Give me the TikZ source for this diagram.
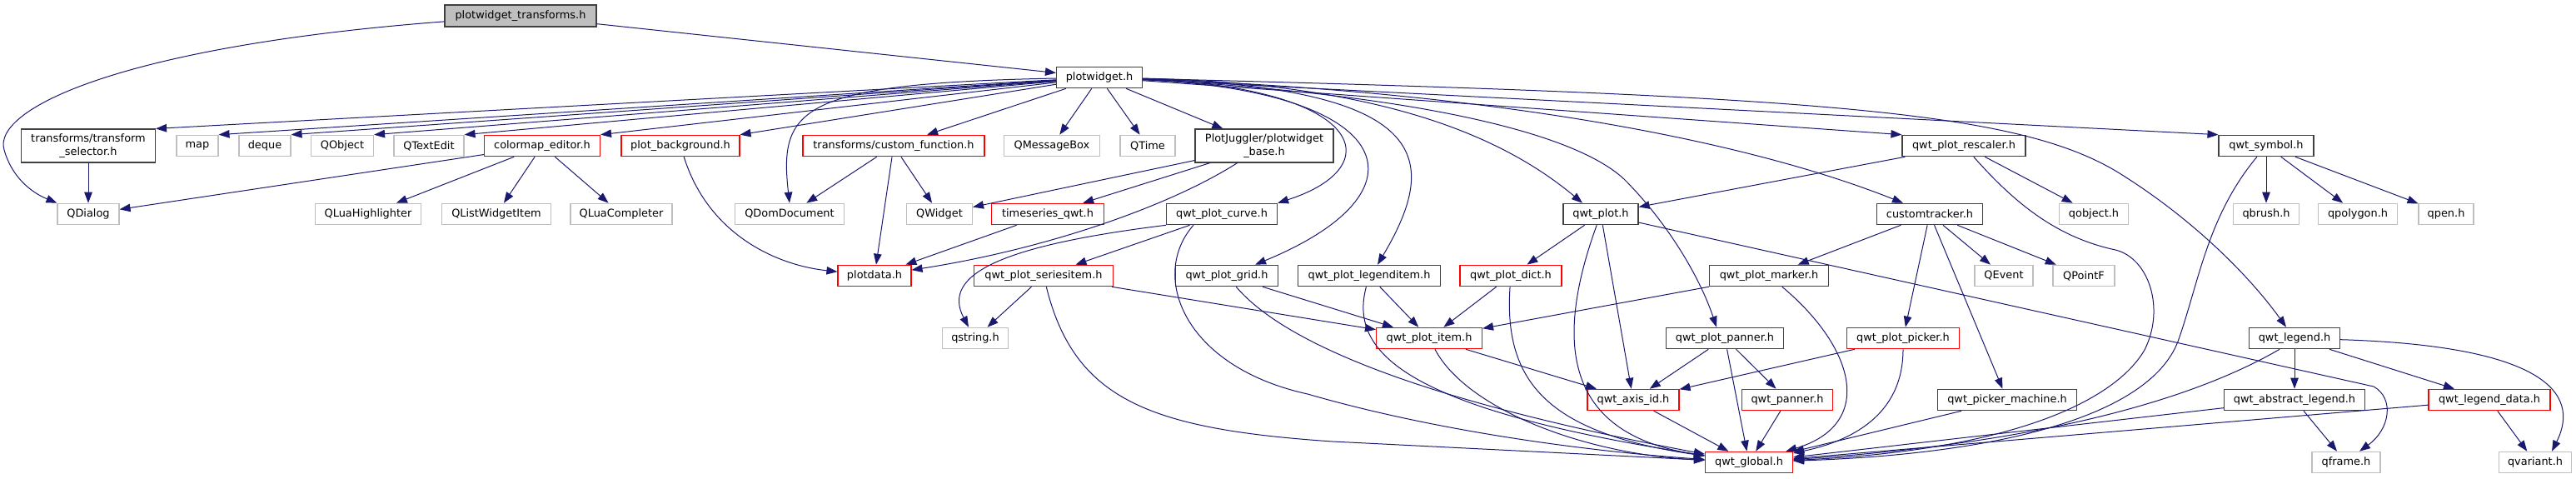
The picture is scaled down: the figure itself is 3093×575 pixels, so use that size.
\documentclass[tikz,border=0pt]{standalone}
\usepackage{fontspec}
\setmainfont{DejaVu Sans}
\usetikzlibrary{arrows.meta,positioning,calc}

\definecolor{edgeblue}{HTML}{191970}
\definecolor{rootfill}{HTML}{BFBFBF}
\definecolor{docline}{HTML}{404040}
\definecolor{truncred}{HTML}{FF0000}
\definecolor{extgray}{HTML}{BFBFBF}

\tikzset{
  hdr/.style={rectangle, line width=1.1pt, inner xsep=3pt, inner ysep=0pt,
    minimum height=25.5pt, align=center, text=black,
    font=\fontsize{12.9}{15.5}\selectfont},
  rootbox/.style={hdr, draw=docline, fill=rootfill},
  docbox/.style={hdr, draw=docline},
  trunc/.style={hdr, draw=truncred},
  extbox/.style={hdr, draw=extgray},
  incl/.style={draw=edgeblue, line width=1pt, -{Triangle[length=13pt,width=9.5pt]}}
}

\begin{document}
\begin{tikzpicture}[x=1pt, y=-1pt]
    \useasboundingbox (0,0) rectangle (3093,575);

    % Top
    \node[rootbox, minimum width=182pt, minimum height=26pt] (root) at (625,19) {plotwidget\_transforms.h};
    \node[docbox, minimum width=103pt] (pw) at (1320,93) {plotwidget.h};

    % Row 2
    \node[docbox, minimum width=161pt, minimum height=40pt] (ts) at (106,175) {transforms/transform\\\_selector.h};
    \node[extbox, minimum width=50pt] (map) at (237,175) {map};
    \node[extbox, minimum width=62pt] (deque) at (318,175) {deque};
    \node[extbox, minimum width=75pt] (qobj) at (411,175) {QObject};
    \node[extbox, minimum width=84pt] (qtextedit) at (515,175) {QTextEdit};
    \node[trunc, minimum width=139pt] (cme) at (651,175) {colormap\_editor.h};
    \node[trunc, minimum width=142pt] (pbg) at (817,175) {plot\_background.h};
    \node[trunc, minimum width=218pt] (cf) at (1073,175) {transforms/custom\_function.h};
    \node[extbox, minimum width=115pt] (qmsgbox) at (1263,175) {QMessageBox};
    \node[extbox, minimum width=66pt] (qtime) at (1378,175) {QTime};
    \node[docbox, minimum width=166pt, minimum height=40pt] (pbase) at (1518,175) {PlotJuggler/plotwidget\\\_base.h};
    \node[docbox, minimum width=148pt] (qpr) at (2358,175) {qwt\_plot\_rescaler.h};
    \node[docbox, minimum width=114pt] (qs) at (2721,175) {qwt\_symbol.h};

    % Row 3
    \node[extbox, minimum width=74pt] (qdialog) at (106,257) {QDialog};
    \node[extbox, minimum width=127pt] (qlh) at (442,257) {QLuaHighlighter};
    \node[extbox, minimum width=131pt] (qlwi) at (596,257) {QListWidgetItem};
    \node[extbox, minimum width=122pt] (qlc) at (746,257) {QLuaCompleter};
    \node[extbox, minimum width=131pt] (qdd) at (948,257) {QDomDocument};
    \node[extbox, minimum width=79pt] (qwidget) at (1128,257) {QWidget};
    \node[trunc, minimum width=135pt] (tsq) at (1258,257) {timeseries\_qwt.h};
    \node[docbox, minimum width=133pt] (qpc) at (1467,257) {qwt\_plot\_curve.h};
    \node[docbox, minimum width=90pt] (qwtplot) at (1922,257) {qwt\_plot.h};
    \node[docbox, minimum width=127pt] (ct) at (2317,257) {customtracker.h};
    \node[extbox, minimum width=83pt] (qobjh) at (2514,257) {qobject.h};
    \node[extbox, minimum width=79pt] (qbrush) at (2721,257) {qbrush.h};
    \node[extbox, minimum width=95pt] (qpolygon) at (2831,257) {qpolygon.h};
    \node[extbox, minimum width=66pt] (qpen) at (2937,257) {qpen.h};

    % Row 4
    \node[trunc, minimum width=88pt] (pd) at (1050,331) {plotdata.h};
    \node[trunc, minimum width=167pt] (si) at (1253,331) {qwt\_plot\_seriesitem.h};
    \node[docbox, minimum width=123pt] (qpg) at (1473,331) {qwt\_plot\_grid.h};
    \node[docbox, minimum width=171pt] (qpli) at (1644,331) {qwt\_plot\_legenditem.h};
    \node[trunc, minimum width=122pt] (qpd) at (1814,331) {qwt\_plot\_dict.h};
    \node[docbox, minimum width=143pt] (qpm) at (2124,331) {qwt\_plot\_marker.h};
    \node[extbox, minimum width=70pt] (qevent) at (2406,331) {QEvent};
    \node[extbox, minimum width=74pt] (qpointf) at (2502,331) {QPointF};

    % Row 5
    \node[extbox, minimum width=79pt] (qstr) at (1171,406) {qstring.h};
    \node[trunc, minimum width=127pt] (qpi) at (1716,406) {qwt\_plot\_item.h};
    \node[docbox, minimum width=141pt] (qpp) at (2071,406) {qwt\_plot\_panner.h};
    \node[trunc, minimum width=135pt] (qpk) at (2285,406) {qwt\_plot\_picker.h};
    \node[docbox, minimum width=109pt] (ql) at (2755,406) {qwt\_legend.h};

    % Row 6
    \node[trunc, minimum width=110pt] (qax) at (1961,480) {qwt\_axis\_id.h};
    \node[trunc, minimum width=109pt] (qpan) at (2146,480) {qwt\_panner.h};
    \node[docbox, minimum width=167pt] (qpmach) at (2410,480) {qwt\_picker\_machine.h};
    \node[docbox, minimum width=169pt] (qal) at (2755,480) {qwt\_abstract\_legend.h};
    \node[trunc, minimum width=146pt] (qld) at (2989,480) {qwt\_legend\_data.h};

    % Row 7
    \node[trunc, minimum width=105pt] (qg) at (2100,555) {qwt\_global.h};
    \node[extbox, minimum width=82pt] (qframe) at (2817,555) {qframe.h};
    \node[extbox, minimum width=87pt] (qvar) at (3044,555) {qvariant.h};

    % plotwidget_transforms.h
    \draw[incl] (root) .. controls (150,55) and (-10,130) .. (5,180) .. controls (15,215) and (40,232) .. (qdialog.north west);
    \draw[incl] (root) -- (pw);

    % plotwidget.h, to the left
    \draw[incl] (pw) -- (ts.north east);
    \draw[incl] (pw) -- (map.north east);
    \draw[incl] (pw) -- (deque.north east);
    \draw[incl] (pw) -- (qobj.north east);
    \draw[incl] (pw) -- (qtextedit.north east);
    \draw[incl] (pw) -- (cme.north east);
    \draw[incl] (pw) -- (pbg.north east);
    \draw[incl] (pw) .. controls (960,100) and (935,130) .. (qdd.north);
    \draw[incl] (pw) -- (cf);
    \draw[incl] (pw) -- (qmsgbox);
    \draw[incl] (pw) -- (qtime);
    \draw[incl] (pw) -- (pbase);

    % plotwidget.h, to the right
    \draw[incl] (pw) .. controls (1640,105) and (1670,200) .. (qpc.north east);
    \draw[incl] (pw) .. controls (1680,110) and (1720,230) .. ($(qpg.north)+(34,0)$);
    \draw[incl] (pw) .. controls (1720,105) and (1730,190) .. ($(qpli.north)+(10,0)$);
    \draw[incl] (pw) .. controls (1650,100) and (1800,160) .. ($(qwtplot.north)+(-22,0)$);
    \draw[incl] (pw) .. controls (1650,110) and (1880,150) .. (1950,215) .. controls (2000,265) and (2040,330) .. ($(qpp.north)+(-10,0)$);
    \draw[incl] (pw) .. controls (1800,110) and (2100,170) .. ($(ct.north)+(-32,0)$);
    \draw[incl] (pw) -- (qpr.north west);
    \draw[incl] (pw) -- (qs.north west);
    \draw[incl] (pw) .. controls (2200,115) and (2420,135) .. (2540,205) .. controls (2630,260) and (2700,330) .. ($(ql.north)+(-10,0)$);

    % left branch
    \draw[incl] (ts) -- (qdialog);
    \draw[incl] (cme) -- (qdialog);
    \draw[incl] (cme) -- (qlh);
    \draw[incl] (cme) -- (qlwi);
    \draw[incl] (cme) -- (qlc);
    \draw[incl] (pbg) .. controls (850,280) and (930,318) .. (pd);
    \draw[incl] (cf) -- (qdd);
    \draw[incl] (cf) -- (qwidget);
    \draw[incl] (cf) -- (pd);
    \draw[incl] (pbase) -- (qwidget);
    \draw[incl] (pbase) -- (tsq);
    \draw[incl] (pbase) .. controls (1400,250) and (1250,300) .. (pd);
    \draw[incl] (tsq) -- (pd);

    % qwt headers
    \draw[incl] (qpc) -- (si);
    \draw[incl] (qpc.south west) .. controls (1200,295) and (1130,330) .. ($(qstr.north)+(-8,0)$);
    \draw[incl] ($(qpc.south)+(-34,0)$) .. controls (1380,330) and (1420,440) .. (1570,473) .. controls (1750,525) and (1950,545) .. (qg);
    \draw[incl] (si) -- (qstr);
    \draw[incl] (si) -- (qpi);
    \draw[incl] (si) .. controls (1290,480) and (1380,515) .. (1600,530) -- (qg);
    \draw[incl] (qpg) -- (qpi);
    \draw[incl] (qpg) .. controls (1540,410) and (1700,480) .. (qg);
    \draw[incl] (qpli) -- (qpi);
    \draw[incl] (qpli) .. controls (1620,420) and (1680,490) .. (qg);
    \draw[incl] (qpd) -- (qpi);
    \draw[incl] (qpd) .. controls (1805,460) and (1860,520) .. (qg);
    \draw[incl] (qwtplot) -- (qpd);
    \draw[incl] (qwtplot) -- (qax);
    \draw[incl] (qwtplot) .. controls (1870,400) and (1870,520) .. (qg);
    \draw[incl] (qwtplot) -- (2850,464) .. controls (2875,478) and (2870,515) .. ($(qframe.north)+(16,0)$);
    \draw[incl] (qpi) -- (qax);
    \draw[incl] (qpi) .. controls (1760,490) and (1900,545) .. (qg);
    \draw[incl] (qax) -- (qg);
    \draw[incl] (qpm) -- (qpi);
    \draw[incl] (qpm) .. controls (2230,420) and (2250,510) .. (qg);
    \draw[incl] (qpp) -- (qax);
    \draw[incl] (qpp) -- (qg);
    \draw[incl] (qpp) -- (qpan);
    \draw[incl] (qpan) -- (qg);

    % customtracker.h
    \draw[incl] (ct) -- (qpm);
    \draw[incl] (ct) -- (qpk);
    \draw[incl] (ct) -- (qpmach);
    \draw[incl] (ct) -- (qevent);
    \draw[incl] (ct) -- (qpointf);
    \draw[incl] (qpk) -- (qax);
    \draw[incl] (qpk) .. controls (2285,500) and (2220,530) .. (qg);
    \draw[incl] (qpmach) -- (qg);

    % rescaler and symbol
    \draw[incl] (qpr) -- (qwtplot);
    \draw[incl] (qpr) -- (qobjh);
    \draw[incl] (qpr) .. controls (2420,245) and (2470,285) .. (2540,300) .. controls (2580,310) and (2600,370) .. (2575,420) .. controls (2540,480) and (2420,540) .. (qg);
    \draw[incl] (qs) -- (qbrush);
    \draw[incl] (qs) -- (qpolygon);
    \draw[incl] (qs) -- (qpen);
    \draw[incl] (qs) .. controls (2650,260) and (2640,340) .. (2615,410) .. controls (2580,500) and (2400,545) .. (qg);

    % legend
    \draw[incl] (ql) -- (qal);
    \draw[incl] (ql) -- (qld);
    \draw[incl] (ql) .. controls (3050,415) and (3100,470) .. ($(qvar.north)+(20,0)$);
    \draw[incl] ($(ql.south)+(-18,0)$) .. controls (2650,470) and (2480,530) .. (qg);
    \draw[incl] (qal) -- (qg);
    \draw[incl] (qal) -- (qframe);
    \draw[incl] (qld) -- (qg);
    \draw[incl] (qld) -- (qvar);
\end{tikzpicture}
\end{document}
